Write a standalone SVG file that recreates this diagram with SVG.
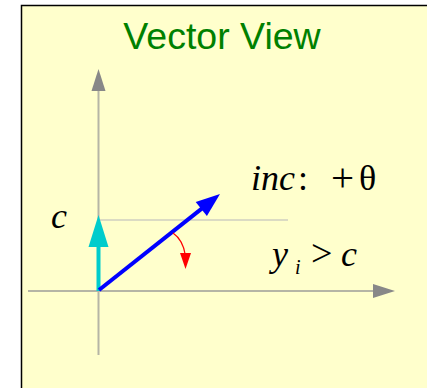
<svg xmlns="http://www.w3.org/2000/svg" width="427" height="388" viewBox="0 0 427 388">
<style>
.axis{stroke:#b5b5a5;stroke-width:2;fill:none}
.axhead{fill:#888888}
.ref{stroke:#cfcfc0;stroke-width:1.5}
.math{font-family:"Liberation Serif","Times New Roman",serif;font-size:36px;fill:#000}
.it{font-style:italic}
</style>
<rect x="21.5" y="5.5" width="420" height="400" fill="#FFFFCC" stroke="#000" stroke-width="1.5"/>
<g id="title"><text x="222" y="49" text-anchor="middle" font-family="Liberation Sans, Arial, sans-serif" font-size="37.5" fill="#008000">Vector View</text></g>
<g id="connectors">
<g id="axes">
<line class="axis" x1="28" y1="291" x2="375" y2="291"/>
<polygon class="axhead" points="395,291 373,284 373,298"/>
<line class="axis" x1="98.5" y1="355" x2="98.5" y2="89"/>
<polygon class="axhead" points="98.5,69 91.5,91 105.5,91"/>
</g>
<line id="refline" class="ref" x1="98.5" y1="220" x2="288" y2="220"/>
<g id="cvec">
<line x1="98.5" y1="291" x2="98.5" y2="244" stroke="#00CCCC" stroke-width="4"/>
<polygon points="98.5,215 88.5,247 108.5,247" fill="#00CCCC"/>
</g>
<g id="incvec">
<line x1="99" y1="290" x2="203" y2="207.6" stroke="#0000FF" stroke-width="4"/>
<polygon points="220,194 206.9,216 195.7,202" fill="#0000FF"/>
</g>
<g id="rotation">
<path d="M173,233 Q183,240 185.3,255" stroke="#FF0000" stroke-width="1.2" fill="none"/>
<polygon points="185.5,269 180,253 191,253" fill="#FF0000"/>
</g>
</g>
<g id="label-c"><text class="math it" x="51" y="228">c</text></g>
<g id="label-inc"><text class="math"><tspan class="it" x="251" y="190">inc</tspan><tspan x="298" y="190">:</tspan><tspan x="331" y="191" font-size="41">+</tspan><tspan x="359" y="190">θ</tspan></text></g>
<g id="label-cond"><text class="math"><tspan class="it" x="272" y="266">y</tspan><tspan class="it" x="295" y="274" font-size="20">i</tspan><tspan x="311" y="266" font-size="38">&gt;</tspan><tspan class="it" x="341" y="266">c</tspan></text></g>
</svg>
